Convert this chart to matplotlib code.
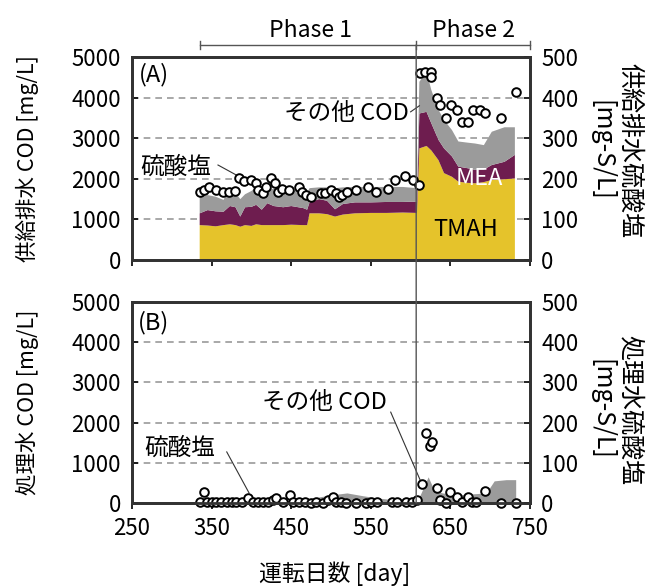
import matplotlib
matplotlib.use('Agg')
import matplotlib.pyplot as plt
from matplotlib.patches import ConnectionPatch
import numpy as np

plt.rcParams['font.family'] = ['Noto Sans CJK JP', 'DejaVu Sans']
plt.rcParams['font.size'] = 16

# --- feed (A): stacked COD components, mg/L ---
day_a = [335, 345, 355, 365, 373, 380, 386, 392, 400, 406, 413, 420, 428, 440,
         450, 465, 470, 473, 485, 495, 505, 515, 530, 550, 570, 590, 608,
         611, 620, 626, 635, 642, 652, 660, 672, 681, 692, 702, 718, 731]
tmah = [860, 850, 830, 860, 880, 860, 820, 860, 840, 880, 860, 860, 860, 860,
        870, 860, 860, 1150, 1150, 1130, 1070, 1120, 1150, 1160, 1160, 1170, 1160,
        2750, 2810, 2700, 2460, 2140, 2050, 1930, 1900, 1890, 1920, 1970, 1990, 2010]
mea_top = [1150, 1230, 1200, 1190, 1330, 1300, 1070, 1300, 1310, 1360, 1240, 1400, 1330, 1300,
           1330, 1280, 1240, 1420, 1500, 1460, 1250, 1380, 1420, 1420, 1430, 1430, 1440,
           3610, 3650, 3370, 2960, 2750, 2550, 2300, 2260, 2220, 2230, 2340, 2420, 2590]
cod_top = [1560, 1600, 1560, 1480, 1800, 1650, 1500, 1620, 1700, 1800, 1640, 1720, 1760, 1680,
           1720, 1660, 1650, 1770, 1790, 1790, 1770, 1790, 1800, 1800, 1800, 1800, 1770,
           4390, 4640, 4190, 3700, 3450, 3200, 2920, 2890, 2870, 2830, 3160, 3270, 3270]
mea = np.array(mea_top) - np.array(tmah)
other = np.array(cod_top) - np.array(mea_top)

# feed sulfate, mg-S/L
sday_a = [335, 341, 347, 356, 364, 372, 379, 385, 391, 400, 406, 408, 414, 418, 425, 429,
          433, 439, 447, 460, 464, 468, 475, 487, 493, 500, 506, 510, 514, 520, 532, 547,
          557, 572, 581, 593, 603, 610,
          612, 618, 625, 626, 633, 637, 645, 651, 658, 664, 672, 679, 687, 693, 714, 733]
so4_a = [168, 172, 180, 172, 168, 168, 170, 202, 194, 198, 190, 172, 164, 180, 202, 190,
         168, 176, 172, 180, 168, 160, 156, 164, 164, 172, 164, 156, 160, 168, 172, 180,
         168, 176, 198, 206, 198, 186,
         460, 463, 463, 450, 399, 382, 350, 382, 369, 340, 340, 369, 369, 362, 350, 414]

# --- effluent (B) ---
day_b = [335, 400, 470, 485, 500, 520, 540, 560, 580, 607, 612, 622, 630, 640,
         660, 680, 695, 705, 720, 732]
cod_b = [30, 50, 60, 150, 200, 250, 180, 120, 80, 60, 200, 650, 300, 250,
         200, 230, 250, 550, 580, 580]

sday_b = [335, 340, 344, 350, 356, 362, 369, 375, 381, 388, 396, 402, 408, 414, 421, 427,
          431, 440, 448, 452, 460, 467, 475, 481, 490, 496, 502, 506, 513, 519, 531, 544,
          550, 558, 577, 583, 594, 602, 608,
          614, 619, 624, 627, 633, 637, 645, 650, 658, 664, 672, 677, 682, 693, 714, 733]
so4_b = [3, 28, 3, 3, 3, 3, 3, 3, 3, 3, 12, 3, 3, 3, 3, 7,
         12, 3, 20, 3, 3, 3, 1, 3, 1, 7, 16, 3, 3, 1, 1, 1,
         3, 3, 3, 3, 3, 3, 7,
         47, 175, 142, 152, 37, 7, 1, 27, 16, 3, 16, 3, 3, 31, 1, 0]

c_tmah = '#e5c32b'
c_mea = '#6e1d4f'
c_oth = '#9b9b9b'

fig = plt.figure(figsize=(6.52, 5.88), dpi=100)
ax1 = fig.add_axes([0.2025, 0.5578, 0.6104, 0.3452])
ax2 = fig.add_axes([0.2025, 0.1446, 0.6104, 0.3418])

ax1.stackplot(day_a, tmah, mea, other, colors=[c_tmah, c_mea, c_oth], lw=0)
ax2.fill_between(day_b, cod_b, 0, color=c_oth, lw=0)

for ax in (ax1, ax2):
    ax.set_xlim(250, 750)
    ax.set_ylim(0, 5000)
    ax.set_yticks([0, 1000, 2000, 3000, 4000, 5000])
    ax.set_xticks([250, 350, 450, 550, 650, 750])
    for y in [1000, 2000, 3000, 4000]:
        ax.axhline(y, color='#999999', ls=(0, (4, 3)), lw=1.2, zorder=0.5)
    for s in ax.spines.values():
        s.set_linewidth(2)
        s.set_color('#333333')
    ax.tick_params(axis='y', direction='in', length=4, width=1.2, pad=8, labelsize=16)
    ax.tick_params(axis='x', direction='out', length=4, width=1.2, pad=6, labelsize=16)
ax1.tick_params(axis='x', labelbottom=False)

ax1r = ax1.twinx()
ax2r = ax2.twinx()
ax1r.plot(sday_a, so4_a, 'o', ms=6.2, mfc='white', mec='black', mew=1.4, clip_on=False)
ax2r.plot(sday_b, so4_b, 'o', ms=6.2, mfc='white', mec='black', mew=1.4, clip_on=False)
for ax in (ax1r, ax2r):
    ax.set_ylim(0, 500)
    ax.set_yticks([0, 100, 200, 300, 400, 500])
    ax.tick_params(axis='y', direction='in', length=4, width=1.2, pad=8, labelsize=16)
    for s in ax.spines.values():
        s.set_linewidth(2)
        s.set_color('#333333')

ax1.set_ylabel('供給排水 COD [mg/L]', fontsize=15.5)
ax2.set_ylabel('処理水 COD [mg/L]', fontsize=15.5)
ax1.yaxis.set_label_coords(-0.235, 0.5)
ax2.yaxis.set_label_coords(-0.235, 0.5)
ax1r.set_ylabel('供給排水硫酸塩\n[mg-S/L]', rotation=270, fontsize=18, linespacing=1.1)
ax2r.set_ylabel('処理水硫酸塩\n[mg-S/L]', rotation=270, fontsize=18, linespacing=1.1)
ax1r.yaxis.set_label_coords(1.283, 0.54)
ax2r.yaxis.set_label_coords(1.283, 0.465)
ax2.set_xlabel('運転日数 [day]', fontsize=16.5)
ax2.xaxis.set_label_coords(0.51, -0.29)

ax1.text(259, 4560, '(A)', va='center', fontsize=17)
ax2.text(257, 4480, '(B)', va='center', fontsize=17)
ax1.text(598, 3620, 'その他 COD', ha='right', va='center', fontsize=17)
ax1.plot([600, 611], [3650, 3800], color='#333333', lw=0.8)
ax1.text(260, 2290, '硫酸塩', va='center', fontsize=17)
ax1.plot([358, 386], [2340, 2040], color='#333333', lw=0.8)
ax1.text(686, 2020, 'MEA', color='white', ha='center', va='center', fontsize=17)
ax1.text(669, 740, 'TMAH', ha='center', va='center', fontsize=17)
ax2.text(570, 2490, 'その他 COD', ha='right', va='center', fontsize=17)
ax2.plot([575, 612], [2260, 570], color='#333333', lw=0.8)
ax2.text(266, 1370, '硫酸塩', va='center', fontsize=17)
ax2.plot([369, 397], [1270, 250], color='#333333', lw=0.8)

# phase bracket
yb = 5300
ax1.plot([335, 750], [yb, yb], color='#555555', lw=1, clip_on=False)
for xb in [335, 607, 750]:
    ax1.plot([xb, xb], [yb - 100, yb + 100], color='#555555', lw=1, clip_on=False)
ax1.text(474, yb + 80, 'Phase 1', ha='center', va='bottom', fontsize=16.5)
ax1.text(679, yb + 80, 'Phase 2', ha='center', va='bottom', fontsize=16.5)
con = ConnectionPatch(xyA=(607, yb), coordsA=ax1.transData,
                      xyB=(607, 0), coordsB=ax2.transData,
                      color='#555555', lw=1, zorder=10)
fig.add_artist(con)

fig.savefig('out.png', dpi=100)
